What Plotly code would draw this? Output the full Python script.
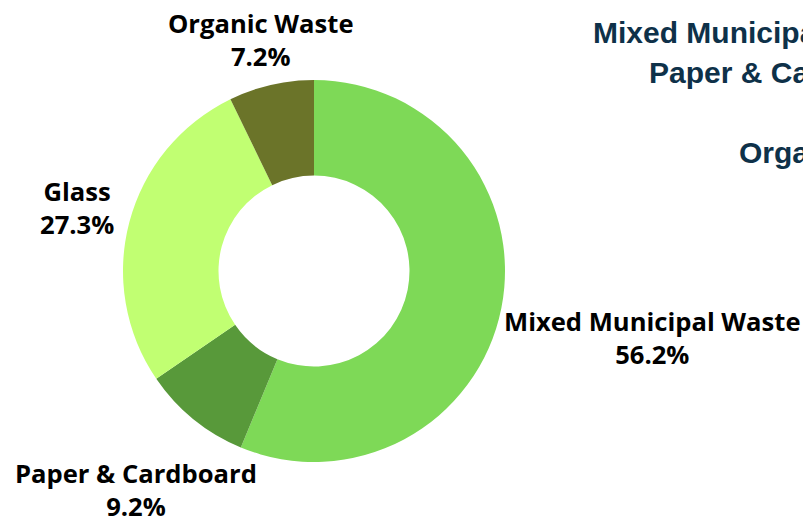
import math
import plotly.graph_objects as go

categories = ["Mixed Municipal Waste", "Paper & Cardboard", "Glass", "Organic Waste"]
shares = [56.2, 9.2, 27.3, 7.2]
colors = ["#7ED957", "#58993A", "#C1FF72", "#6B7429"]
side_lines = ["Mixed Municipal Waste", "Paper & Cardboard", "Glass", "Organic Waste"]

# style: distance (px) of each outside label centre from the pie centre
label_dist = [345, 282, 245, 237]

W, H = 803, 521

# pie: centre (314, 271) and radius 191 in page pixels
cx, cy, r = 314, 271, 191

fig = go.Figure(go.Pie(
    labels=categories,
    values=shares,
    hole=0.5,
    sort=False,
    direction="clockwise",
    rotation=0,
    automargin=False,
    marker=dict(colors=colors, line=dict(width=0)),
    textinfo="none",
    showlegend=False,
    domain=dict(x=[(cx - r) / W, (cx + r) / W], y=[1 - (cy + r) / H, 1 - (cy - r) / H]),
))

# outside labels placed along each slice's mid-angle ray
total = sum(shares)
cum = 0.0
for lab, val, dist in zip(categories, shares, label_dist):
    theta = 2 * math.pi * (cum + val / 2) / total  # clockwise from 12 o'clock
    cum += val
    lx = cx + dist * math.sin(theta)
    ly = cy - dist * math.cos(theta)
    fig.add_annotation(
        text=f"<b>{lab}</b><br><b>{val:.1f}%</b>",
        xref="paper", yref="paper",
        x=lx / W, y=1 - ly / H,
        xanchor="center", yanchor="middle",
        showarrow=False, align="center",
        font=dict(family="Open Sans", size=25.6, color="#000000"),
    )

# right-hand text block (cut off by the page edge)
side_x = [591, 647, 850, 737]
side_y = [33, 72, 112, 153]
for txt, px, py in zip(side_lines, side_x, side_y):
    fig.add_annotation(
        text="<b>" + txt + "</b>",
        xref="paper", yref="paper",
        x=px / W, y=1 - py / H,
        xanchor="left", yanchor="middle",
        showarrow=False,
        font=dict(family="Liberation Sans, Arial", size=30, color="#0E3149"),
    )

fig.update_layout(
    width=W, height=H,
    margin=dict(l=0, r=0, t=0, b=0),
    paper_bgcolor="white",
    plot_bgcolor="white",
)

fig.write_html(
    "out.html",
    config={"displayModeBar": False},
    post_script="document.body.style.margin='0';document.body.style.overflow='hidden';",
)
